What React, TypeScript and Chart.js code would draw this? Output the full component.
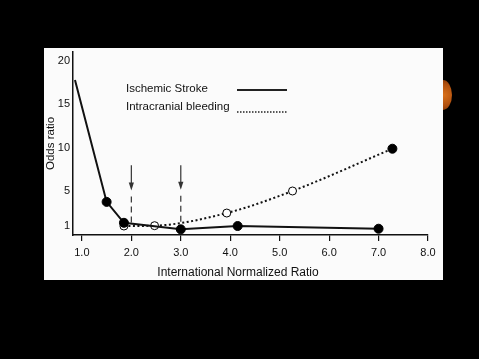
import React, { useEffect, useRef } from "react";
import { Chart, registerables } from "chart.js";

Chart.register(...registerables);

const inrTicks = [1, 2, 3, 4, 5, 6, 7, 8];
const oddsTicks = [1, 5, 10, 15, 20];
const seriesNames = ["Ischemic Stroke", "Intracranial bleeding"];
const strokeINR = [0.86, 1.5, 1.85, 3.0, 4.15, 7.0];
const strokeOdds = [17.8, 3.8, 1.4, 0.65, 1.03, 0.72];
const bleedINR = [1.85, 2.47, 3.93, 5.26, 7.28];
const bleedOdds = [1.03, 1.07, 2.52, 5.05, 9.9];
const arrowINR = [2.0, 3.0];
const arrowTop = [8.0, 8.0];
const arrowTip = [5.1, 5.2];
const arrowEnd = [1.3, 1.5];
const xTitle = "International Normalized Ratio";
const yTitle = "Odds ratio";

const FONT = "'Liberation Sans', Arial, Helvetica, sans-serif";

const overlay = {
  id: "overlay",
  beforeDatasetsDraw(chart: any) {
    const { ctx } = chart;
    const x = chart.scales.x;
    const y = chart.scales.y;
    ctx.save();
    ctx.strokeStyle = "#333";
    ctx.fillStyle = "#333";
    ctx.lineWidth = 1.2;
    arrowINR.forEach((v, i) => {
      const px = x.getPixelForValue(v);
      const top = y.getPixelForValue(arrowTop[i]);
      const tip = y.getPixelForValue(arrowTip[i]);
      const end = y.getPixelForValue(arrowEnd[i]);
      ctx.setLineDash([]);
      ctx.beginPath();
      ctx.moveTo(px, top);
      ctx.lineTo(px, tip - 6);
      ctx.stroke();
      ctx.beginPath();
      ctx.moveTo(px - 2.6, tip - 8);
      ctx.lineTo(px + 2.6, tip - 8);
      ctx.lineTo(px, tip);
      ctx.closePath();
      ctx.fill();
      ctx.setLineDash([6, 4]);
      ctx.beginPath();
      ctx.moveTo(px, tip + 6);
      ctx.lineTo(px, end);
      ctx.stroke();
    });
    ctx.restore();
  },
  afterDraw(chart: any) {
    const { ctx } = chart;
    ctx.save();
    ctx.fillStyle = "#111";
    ctx.textBaseline = "middle";
    ctx.textAlign = "left";
    ctx.font = `11.5px ${FONT}`;
    ctx.fillText(seriesNames[0], 126, 89);
    ctx.fillText(seriesNames[1], 126, 107);
    ctx.strokeStyle = "#222";
    ctx.lineWidth = 1.8;
    ctx.beginPath();
    ctx.moveTo(237, 90);
    ctx.lineTo(287, 90);
    ctx.stroke();
    ctx.setLineDash([1.5, 1.5]);
    ctx.lineWidth = 1.5;
    ctx.beginPath();
    ctx.moveTo(237, 112);
    ctx.lineTo(287, 112);
    ctx.stroke();
    ctx.setLineDash([]);
    ctx.textAlign = "center";
    ctx.font = `12px ${FONT}`;
    ctx.fillText(xTitle, 238, 273);
    ctx.restore();
  },
};

export default function App() {
  const ref = useRef<HTMLCanvasElement | null>(null);

  useEffect(() => {
    if (!ref.current) return;
    const chart = new Chart(ref.current, {
      type: "line",
      data: {
        datasets: [
          {
            label: seriesNames[0],
            data: strokeINR.map((v, i) => ({ x: v, y: strokeOdds[i] })),
            borderColor: "#111",
            borderWidth: 2,
            pointRadius: strokeINR.map((_, i) => (i === 0 ? 0 : 4.5)),
            pointBackgroundColor: "#000",
            pointBorderColor: "#000",
            pointBorderWidth: 1,
            tension: 0,
          },
          {
            label: seriesNames[1],
            data: bleedINR.map((v, i) => ({ x: v, y: bleedOdds[i] })),
            borderColor: "#111",
            borderWidth: 2,
            borderDash: [2, 2.5],
            cubicInterpolationMode: "monotone",
            pointRadius: bleedINR.map((_, i) => (i === bleedINR.length - 1 ? 4.5 : 4)),
            pointBackgroundColor: bleedINR.map((_, i) => (i === bleedINR.length - 1 ? "#000" : "#fff")),
            pointBorderColor: "#000",
            pointBorderWidth: 1,
          },
        ],
      },
      options: {
        responsive: false,
        animation: false,
        devicePixelRatio: 1,
        layout: { padding: { left: 0, top: 52, right: 51, bottom: 0 } },
        plugins: { legend: { display: false }, tooltip: { enabled: false } },
        scales: {
          x: {
            type: "linear",
            min: 0.82,
            max: 8,
            afterBuildTicks: (s: any) => {
              s.ticks = inrTicks.map((v) => ({ value: v }));
            },
            afterFit: (s: any) => {
              s.height = 124;
            },
            ticks: {
              color: "#111",
              padding: 5,
              font: { family: FONT, size: 11 },
              callback: (v: any) => Number(v).toFixed(1),
            },
            grid: {
              display: true,
              drawOnChartArea: false,
              drawTicks: true,
              tickLength: 6,
              color: "#111",
              lineWidth: 1.2,
            },
            border: { display: true, color: "#111", width: 1.5 },
            title: { display: false, text: xTitle },
          },
          y: {
            type: "linear",
            min: 0,
            max: 21,
            afterBuildTicks: (s: any) => {
              s.ticks = oddsTicks.map((v) => ({ value: v }));
            },
            afterFit: (s: any) => {
              s.width = 73;
            },
            ticks: {
              color: "#111",
              padding: 3,
              font: { family: FONT, size: 11 },
              callback: (v: any) => String(v),
            },
            grid: { display: false, drawTicks: false },
            border: { display: true, color: "#111", width: 1.5 },
            title: {
              display: true,
              text: yTitle,
              color: "#111",
              font: { family: FONT, size: 11.5 },
              padding: { top: 44, bottom: 0 },
            },
          },
        },
      },
      plugins: [overlay],
    } as any);
    return () => chart.destroy();
  }, []);

  return (
    <div style={{ position: "fixed", left: 0, top: 0, width: 479, height: 359, background: "#000", overflow: "hidden" }}>
      <div
        style={{
          position: "absolute",
          left: 434,
          top: 80,
          width: 18,
          height: 30,
          borderRadius: "50%",
          background: "radial-gradient(circle at 55% 50%, #d8701a 0%, #b0500f 60%, #7a3408 100%)",
        }}
      />
      <div style={{ position: "absolute", left: 44, top: 48, width: 399, height: 232, background: "#fbfbfb" }} />
      <canvas ref={ref} width={479} height={359} style={{ position: "absolute", left: 0, top: 0 }} />
    </div>
  );
}
